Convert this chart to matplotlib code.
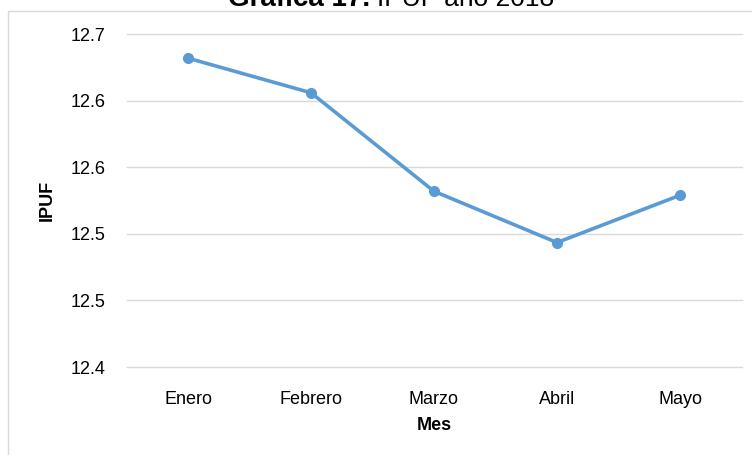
import matplotlib.pyplot as plt
from matplotlib.patches import Rectangle

plt.rcParams['font.family'] = ['Liberation Sans', 'DejaVu Sans']

meses = ["Enero", "Febrero", "Marzo", "Abril", "Mayo"]
ipuf = [12.632, 12.606, 12.532, 12.4935, 12.529]

y_ticks = [12.40, 12.45, 12.50, 12.55, 12.60, 12.65]
y_labels = ["12.4", "12.5", "12.5", "12.6", "12.6", "12.7"]

W, H = 752, 455
fig = plt.figure(figsize=(W / 100, H / 100), dpi=100)

# outer chart frame (only left and top edges visible)
fig.patches.append(Rectangle((8 / W, -0.1), 1.2, 1 - 11 / H + 0.1,
                             transform=fig.transFigure, fill=False,
                             edgecolor="#d9d9d9", lw=1))

left, right = 126.5 / W, 741.5 / W
top, bottom = 1 - 34.2 / H, 1 - 367 / H
ax = fig.add_axes([left, bottom, right - left, top - bottom])

x = list(range(len(meses)))
ax.plot(x, ipuf, color="#5B9BD5", lw=2.6, marker="o", markersize=7,
        solid_capstyle="round", zorder=3)

ax.set_xlim(-0.5, len(meses) - 0.5)
ax.set_ylim(12.40, 12.65)
ax.set_yticks(y_ticks)
ax.set_yticklabels(y_labels)
ax.set_xticks(x)
ax.set_xticklabels(meses)

ax.grid(axis="y", color="#d9d9d9", lw=1)
for g in ax.get_ygridlines():
    g.set_clip_on(False)
ax.set_axisbelow(True)
for s in ax.spines.values():
    s.set_visible(False)
ax.tick_params(axis="both", length=0, labelsize=13, colors="black")
ax.tick_params(axis="y", pad=15)
ax.tick_params(axis="x", pad=17)

ax.set_xlabel("Mes", fontsize=13, fontweight="bold", labelpad=7)
ax.set_ylabel("IPUF", fontsize=13, fontweight="bold", labelpad=11)

# title, partly cut off by the top edge as in the original
fig.text(370 / W, 1 - 6 / H, "Gráfica 17.", ha="right", va="baseline",
         fontsize=20, fontweight="bold")
fig.text(377 / W, 1 - 6 / H, "IPUF año 2018", ha="left", va="baseline",
         fontsize=19)

fig.savefig("out.png", dpi=100)
